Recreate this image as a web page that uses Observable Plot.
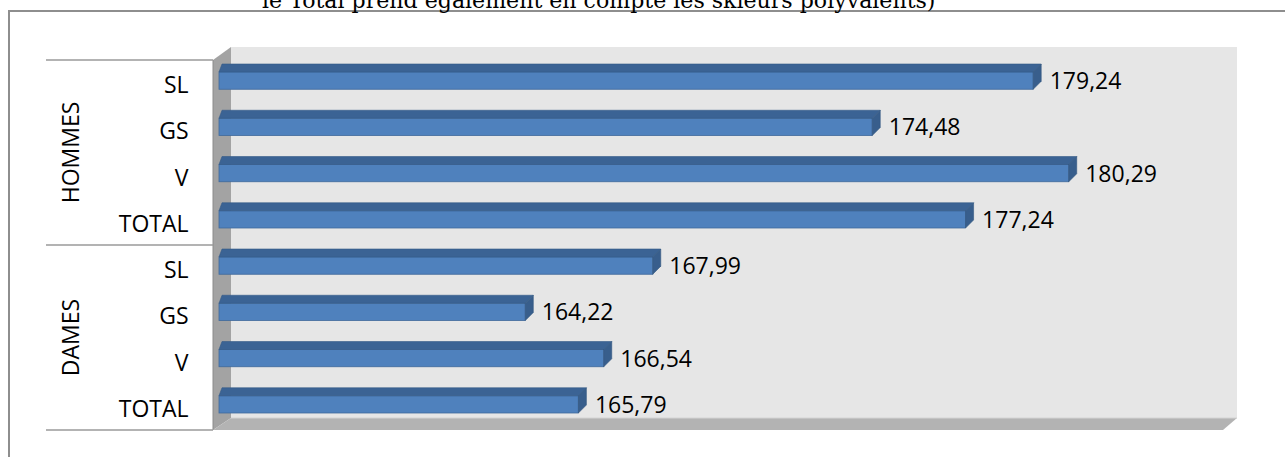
<!DOCTYPE html>
<html>
<head>
<meta charset="utf-8">
<script src="https://cdn.jsdelivr.net/npm/d3@7"></script>
<script src="https://cdn.jsdelivr.net/npm/@observablehq/plot@0.6"></script>
<style>
html, body { margin: 0; padding: 0; background: #fff; }
#wrap { position: relative; width: 1285px; height: 457px; overflow: hidden; background: #fff; }
#title { position: absolute; left: 262px; top: 0; white-space: nowrap; font-family: "DejaVu Serif", serif; line-height: 1; color: #000; }
#frame { position: absolute; left: 8px; top: 10px; width: 1400px; height: 600px; border: 2px solid #8e8e8e; box-sizing: border-box; }
#chart { position: absolute; left: 0; top: 0; }
</style>
</head>
<body>
<div id="wrap"><div id="frame"></div><div id="title"></div><div id="chart"></div></div>
<script>
// ---- data ----
const titleText = "le Total prend également en compte les skieurs polyvalents)";
const groups = ["HOMMES", "HOMMES", "HOMMES", "HOMMES", "DAMES", "DAMES", "DAMES", "DAMES"];
const events = ["SL", "GS", "V", "TOTAL", "SL", "GS", "V", "TOTAL"];
const values = [179.24, 174.48, 180.29, 177.24, 167.99, 164.22, 166.54, 165.79];
const xDomain = [155, 185];
const groupNames = ["HOMMES", "DAMES"];

const rows = events.map((e, i) => ({
  group: groups[i], event: e, key: groups[i] + " " + e,
  value: values[i], label: values[i].toFixed(2).replace(".", ",")
}));
const keys = rows.map(d => d.key);

// ---- title (clipped at top, as in reference) ----
const t = document.getElementById("title");
t.textContent = titleText;
const marker = document.createElement("span");
marker.style.cssText = "display:inline-block;width:0;height:0;vertical-align:baseline";
t.appendChild(marker);
t.style.fontSize = "22px";
const w0 = t.getBoundingClientRect().width;
t.style.fontSize = (22 * 674 / w0) + "px";
const base = marker.offsetTop;
t.style.top = (7.5 - base) + "px";

// ---- helpers ----
function pick(args) {
  const s = args.find(a => a && typeof a.x === "function" && typeof a.y === "function");
  const dm = args.find(a => a && typeof a.marginLeft === "number" && typeof a.width === "number");
  return {s, dm};
}
const NS = "http://www.w3.org/2000/svg";
function el(name, attrs, parent) {
  const e = document.createElementNS(NS, name);
  for (const k in attrs) e.setAttribute(k, attrs[k]);
  if (parent) parent.appendChild(e);
  return e;
}
const pts = a => a.map(p => p.join(",")).join(" ");

// 3D walls + two-level category axis decoration
function walls(...args) {
  const {s, dm} = pick(args);
  const g = el("g", {});
  const X0 = s.x(xDomain[0]), X1 = s.x(xDomain[1]);
  const T = dm.marginTop, B = dm.height - dm.marginBottom;
  const FL = X0 - 0.5, FR = X1 - 5, BL = X0 + 17.5, BR = X1 + 9;
  el("rect", {x: BL, y: T - 13, width: BR - BL, height: (B - 12) - (T - 13), fill: "#e6e6e6"}, g);
  el("polygon", {points: pts([[FL, T], [BL, T - 13], [BL, B - 12], [FL, B]]), fill: "#a3a3a3"}, g);
  el("polygon", {points: pts([[FL, B], [BL, B - 12], [BR, B - 12], [FR, B]]), fill: "#b3b3b3"}, g);
  el("line", {x1: BL, x2: BR, y1: B - 12, y2: B - 12, stroke: "#d4d4d4", "stroke-width": 1}, g);
  el("line", {x1: FL, x2: FL, y1: T, y2: B, stroke: "#8c8c8c", "stroke-width": 1}, g);
  const bw = typeof s.y.bandwidth === "function" ? s.y.bandwidth() : (B - T) / keys.length;
  // separators and group labels
  const seps = new Set();
  groupNames.forEach(gn => {
    const ks = rows.filter(r => r.group === gn).map(r => r.key);
    const y0 = s.y(ks[0]), y1 = s.y(ks[ks.length - 1]) + bw;
    seps.add(y0); seps.add(y1);
    const cy = (y0 + y1) / 2, cx = FL - 142;
    const tx = el("text", {transform: `translate(${cx},${cy}) rotate(-90)`, "text-anchor": "middle", dy: "0.35em", fill: "#000", "font-size": 23}, g);
    tx.textContent = gn;
  });
  seps.forEach(y => el("line", {x1: FL - 167, x2: FL, y1: y, y2: y, stroke: "#9a9a9a", "stroke-width": 1.3}, g));
  return g;
}

// bar top & end faces (3D look)
function faces(...args) {
  const {s, dm} = pick(args);
  const g = el("g", {});
  const bw = typeof s.y.bandwidth === "function" ? s.y.bandwidth() : (dm.height - dm.marginTop - dm.marginBottom) / keys.length;
  rows.forEach(r => {
    const xs = s.x(xDomain[0]) + 5.5, xe = s.x(r.value);
    const yb = s.y(r.key), yt = yb + 12, ybot = yb + bw - 17;
    el("polygon", {points: pts([[xs, yt], [xs + 3, yt - 8], [xe + 8, yt - 8], [xe, yt]]), fill: "#3b6394", stroke: "#345a88", "stroke-width": 0.6}, g);
    el("polygon", {points: pts([[xe, yt], [xe + 8, yt - 8], [xe + 8, ybot - 8], [xe, ybot]]), fill: "#385e8c", stroke: "#32577f", "stroke-width": 0.6}, g);
  });
  return g;
}

const chart = Plot.plot({
  width: 1285,
  height: 457,
  marginLeft: 213.5,
  marginRight: 57,
  marginTop: 60,
  marginBottom: 27,
  x: {domain: xDomain, axis: null},
  y: {domain: keys, axis: null, padding: 0, round: false},
  style: {fontFamily: "'Open Sans', sans-serif", fontSize: "23px", background: "transparent", color: "#000", overflow: "visible"},
  marks: [
    walls,
    Plot.barX(rows, {x1: () => xDomain[0], x2: "value", y: "key", insetLeft: 5.5, insetTop: 12, insetBottom: 17, fill: "#4f81bd", stroke: "#40699b", strokeWidth: 0.8}),
    faces,
    Plot.text(rows, {x: "value", y: "key", text: "label", textAnchor: "start", dx: 16, dy: -2, fontSize: 23, fill: "#000"}),
    Plot.text(rows, {frameAnchor: "left", y: "key", text: "event", textAnchor: "end", dx: -25.5, dy: 2, fontSize: 23, fill: "#000"})
  ]
});
document.getElementById("chart").appendChild(chart);
</script>
</body>
</html>
